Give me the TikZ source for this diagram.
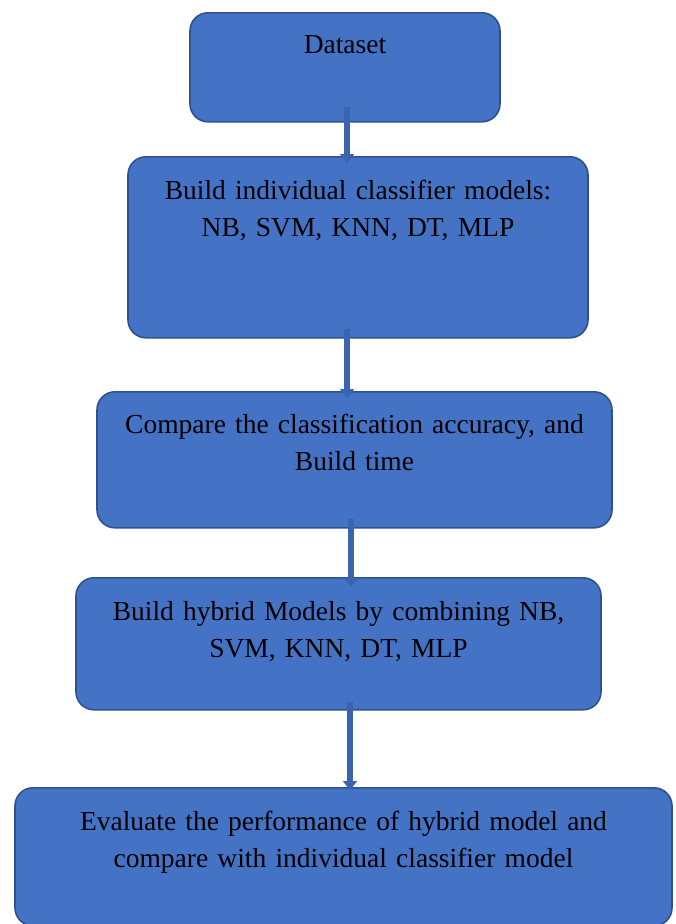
\documentclass[tikz,border=0pt]{standalone}
\usepackage{fontspec}
\setmainfont[WordSpace=0.8]{Liberation Serif}
\usetikzlibrary{arrows.meta,calc}

\definecolor{boxblue}{HTML}{4472C4}
\definecolor{boxedge}{HTML}{2F528F}
\definecolor{arrowblue}{HTML}{3A64B0}

\tikzset{
  stepbox/.style={draw=boxedge, line width=1.6pt, fill=boxblue, rounded corners=18pt,
    inner sep=0pt, align=center, anchor=north, font=\fontsize{27.5}{37}\selectfont},
  flow/.style={draw=arrowblue, line width=6pt, -{Triangle[width=14pt,length=9pt]}}
}

\begin{document}
\begin{tikzpicture}[x=1pt, y=1pt]
  \useasboundingbox (0,0) rectangle (676,-924);

  \node[stepbox, text width=310pt, text height=41pt, text depth=68pt] (data) at (345,-12) {Dataset};
  \node[stepbox, text width=460pt, text height=43pt, text depth=138pt] (indiv) at (358,-156)
    {Build individual classifier models:\\NB, SVM, KNN, DT, MLP};
  \node[stepbox, text width=515pt, text height=42pt, text depth=94pt] (cmp) at (354.5,-391)
    {Compare the classification accuracy, and\\Build time};
  \node[stepbox, text width=525pt, text height=43pt, text depth=89pt] (hyb) at (338.5,-577)
    {Build hybrid Models by combining NB,\\SVM, KNN, DT, MLP};
  \node[stepbox, text width=657pt, text height=43pt, text depth=95pt] (eval) at (343.5,-787)
    {Evaluate the performance of hybrid model and\\compare with individual classifier model};

  % arrows between the steps
  \draw[flow] ($(data.south)+(2,16)$) -- ($(indiv.north)+(-11,-7)$);
  \draw[flow] ($(indiv.south)+(-11,10)$) -- ($(cmp.north)+(-7.5,-7)$);
  \draw[flow] ($(cmp.south)+(-3.5,10)$) -- ($(hyb.north)+(12.5,-10)$);
  \draw[flow] ($(hyb.south)+(11.5,9)$) -- ($(eval.north)+(6.5,-3)$);
\end{tikzpicture}
\end{document}
